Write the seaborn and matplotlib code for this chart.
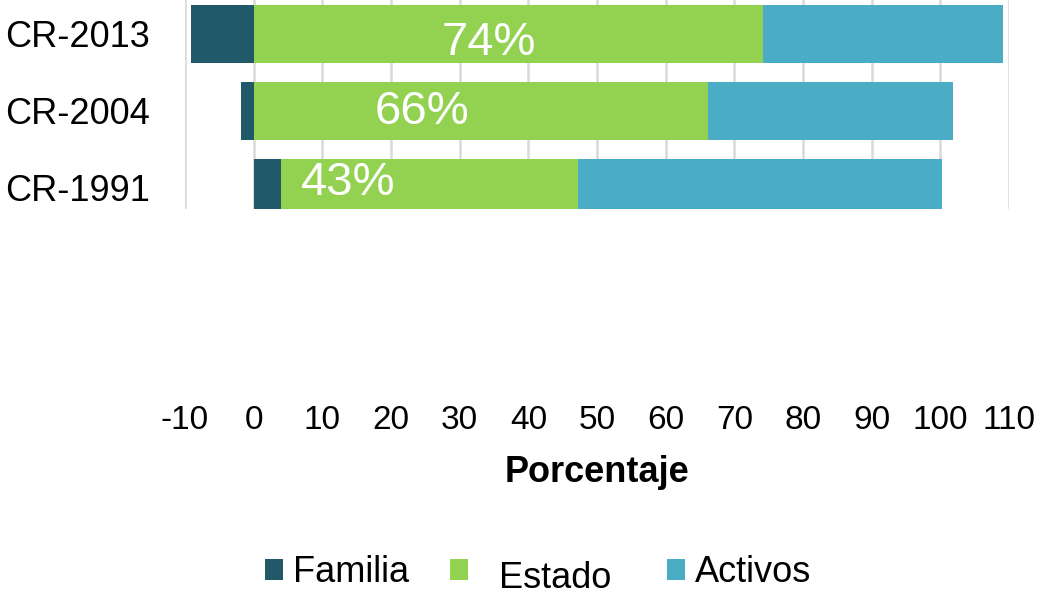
import matplotlib
matplotlib.use("Agg")
import matplotlib.pyplot as plt
from matplotlib.patches import Patch
from matplotlib import font_manager
import seaborn as sns
import pandas as pd
import numpy as np

# ---- data ----
categories = ["CR-2013", "CR-2004", "CR-1991"]
familia = [-9.1, -1.8, 4.0]
estado = [74.2, 66.1, 43.2]
activos = [34.9, 35.7, 53.1]
estado_labels = ["74%", "66%", "43%"]
series_names = ["Familia", "Estado", "Activos"]
xticks = list(range(-10, 111, 10))

# ---- layout (label anchor positions, data units) ----
label_x = [34.2, 24.5, 13.7]
label_dy = [0.12, 0.01, -0.065]

colors = {"Familia": "#225968", "Estado": "#93D150", "Activos": "#4BACC6"}

sns.set_style("white")
plt.rcParams["font.family"] = ["Liberation Sans", "DejaVu Sans"]
plt.rcParams["text.color"] = "black"
plt.rcParams["xtick.color"] = "black"
plt.rcParams["ytick.color"] = "black"
plt.rcParams["axes.labelcolor"] = "black"

names = {f.name for f in font_manager.fontManager.ttflist}
narrow = "Liberation Sans Narrow" if "Liberation Sans Narrow" in names else None

fig = plt.figure(figsize=(10.45, 5.95), dpi=100)
ax = fig.add_axes([185 / 1045, 1 - 209 / 595, 824 / 1045, 209 / 595])

pos_fam = [max(f, 0) for f in familia]
estado_end = [p + e for p, e in zip(pos_fam, estado)]
total_end = [s + a for s, a in zip(estado_end, activos)]

df = pd.DataFrame({
    "cat": categories,
    "total": total_end,
    "estado_end": estado_end,
    "familia": familia,
})

sns.barplot(data=df, y="cat", x="total", order=categories, color=colors["Activos"],
            width=0.75, saturation=1, ax=ax, linewidth=0)
sns.barplot(data=df, y="cat", x="estado_end", order=categories, color=colors["Estado"],
            width=0.75, saturation=1, ax=ax, linewidth=0)
sns.barplot(data=df, y="cat", x="familia", order=categories, color=colors["Familia"],
            width=0.75, saturation=1, ax=ax, linewidth=0)

for i, (lab, lx, dy) in enumerate(zip(estado_labels, label_x, label_dy)):
    ax.text(lx, i + dy, lab, color="white", fontsize=34, ha="center", va="center")

ax.set_xlim(-10, 110)
ax.set_ylim(2.273, -0.44)
ax.set_xticks(xticks)
if narrow:
    ax.set_xticklabels([str(t) for t in xticks], fontsize=26,
                       family=[narrow, "Liberation Sans"])
    xpad = 141
else:
    ax.set_xticklabels([str(t) for t in xticks], fontsize=24)
    xpad = 141
ax.tick_params(axis="x", length=0, pad=xpad)
ax.tick_params(axis="y", length=0, pad=25, labelsize=26)
ax.set_ylabel("")
ax.set_xlabel("Porcentaje", fontsize=26, fontweight="bold")
ax.xaxis.set_label_coords(0.5, -1.262)
ax.xaxis.label.set_va("center")

ax.grid(axis="x", color="#d9d9d9", linewidth=1.8)
ax.grid(axis="y", visible=False)
ax.set_axisbelow(True)
for s in ax.spines.values():
    s.set_visible(False)

# legend entries placed individually
leg_x = [265, 450, 667]
legs = []
for name, lx in zip(series_names, leg_x):
    lg = fig.legend(handles=[Patch(facecolor=colors[name], edgecolor="none", label=name)],
                    loc="center left", bbox_to_anchor=(lx / 1045, 1 - 573 / 595),
                    frameon=False, fontsize=26, borderpad=0, borderaxespad=0,
                    handlelength=0.5, handleheight=0.5, handletextpad=0.28)
    legs.append(lg)
legs[1].get_texts()[0].set_position((21, -6))

fig.savefig("out.png", dpi=100)
